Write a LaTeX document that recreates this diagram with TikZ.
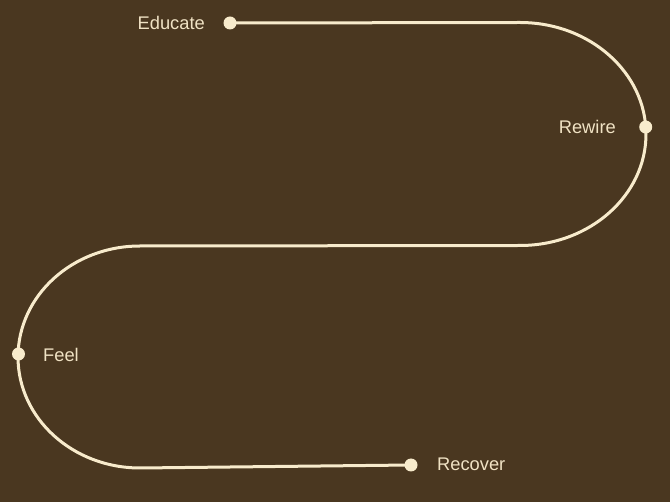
\documentclass[tikz,border=0pt]{standalone}
\usepackage{fontspec}
\setmainfont{Liberation Sans}
\definecolor{bgbrown}{HTML}{4A3720}
\definecolor{cream}{HTML}{F8EBCC}
\definecolor{creamtext}{HTML}{F0E2C4}
\begin{document}
\begin{tikzpicture}[x=1pt,y=-1pt,
  dot/.style={circle,fill=cream,inner sep=0pt,minimum size=13pt},
  lbl/.style={text=creamtext,font=\fontsize{18.3}{21}\selectfont,inner sep=0pt},
  track/.style={draw=cream,line width=3pt}]
\fill[bgbrown] (0,0) rectangle (670,502);
\useasboundingbox (0,0) rectangle (670,502);
% track
\coordinate (e) at (230,23);
\coordinate (t1) at (520,22.5);
\coordinate (r) at (645.7,127);
\coordinate (b1) at (520,245.5);
\coordinate (l1) at (140,246);
\coordinate (f) at (18.5,354);
\coordinate (l2) at (140,468);
\coordinate (rc) at (411,465);
\draw[track] (e) -- (t1)
  .. controls (589.6,22.5) and (646,72.4) .. (646,134)
  .. controls (646,195.6) and (589.6,245.5) .. (b1)
  -- (l1)
  .. controls (72.6,246) and (18,295.7) .. (18,357)
  .. controls (18,418.3) and (72.6,468) .. (l2)
  -- (rc);
\node[dot] (educ) at (e) {};
\node[dot] (rew) at (r) {};
\node[dot] (feel) at (f) {};
\node[dot] (rec) at (rc) {};
\node[lbl,anchor=east] (educl) at (205,23) {Educate};
\node[lbl,anchor=east] (rewl) at (616,127) {Rewire};
\node[lbl,anchor=west] (feell) at (43,355) {Feel};
\node[lbl,anchor=west] (recl) at (437,464) {Recover};
\end{tikzpicture}
\end{document}
